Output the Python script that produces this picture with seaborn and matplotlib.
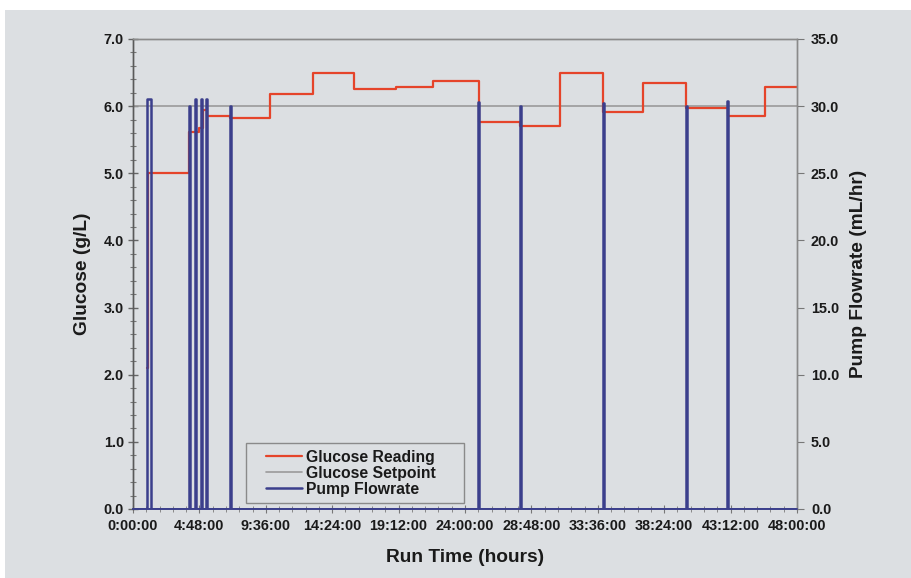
import matplotlib
matplotlib.use("Agg")
import matplotlib.pyplot as plt
import matplotlib.ticker as mticker
from matplotlib.patches import Rectangle
from matplotlib.lines import Line2D
from matplotlib.legend_handler import HandlerLine2D
import numpy as np
import pandas as pd
import seaborn as sns

# ---------------- data (hours / g/L / mL/hr) ----------------
glucose_times = [1.0, 1.1, 4.05, 4.75, 5.06, 5.35, 7.0, 9.9, 13.0, 16.0, 19.0, 21.7,
                 25.0, 28.0, 30.9, 34.0, 36.9, 40.0, 43.0, 45.7, 48.0]
glucose_values = [2.1, 5.0, 5.62, 5.68, 5.95, 5.86, 5.82, 6.18, 6.50, 6.25, 6.29, 6.38,
                  5.77, 5.70, 6.49, 5.91, 6.35, 5.97, 5.85, 6.28, 6.28]

setpoint_times = [0.0, 48.0]
setpoint_values = [6.0, 6.0]

pump_start = [1.0, 4.05, 4.5, 4.9, 5.28, 7.0, 24.95, 27.98, 33.98, 39.98, 42.95]
pump_duration = [0.3, 0.08, 0.08, 0.08, 0.08, 0.08, 0.08, 0.08, 0.08, 0.08, 0.08]
pump_level = [30.5, 30.0, 30.5, 30.5, 30.5, 30.0, 30.3, 30.0, 30.2, 30.0, 30.4]

x_major_hours = [0, 4.8, 9.6, 14.4, 19.2, 24.0, 28.8, 33.6, 38.4, 43.2, 48.0]

# ---------------- build tables ----------------
gluc_df = pd.DataFrame({"t": glucose_times, "g": glucose_values})
set_df = pd.DataFrame({"t": setpoint_times, "g": setpoint_values})
pt, pv = [0.0], [0.0]
for s, d, l in zip(pump_start, pump_duration, pump_level):
    pt += [s, s, s + d, s + d]
    pv += [0.0, l, l, 0.0]
pt.append(48.0)
pv.append(0.0)
pump_df = pd.DataFrame({"t": pt, "f": pv})

# ---------------- style ----------------
sns.set_theme(style="white")
plt.rcParams["font.family"] = ["Liberation Sans", "DejaVu Sans"]
plt.rcParams["font.weight"] = "bold"

BG = "#dcdfe2"
RED = "#e5442a"
BLUE = "#3b3f8c"
GRAY = "#9a9a9a"
TXT = "#1a1a1a"

fig = plt.figure(figsize=(9.12, 5.78), dpi=100, facecolor="white")
fig.patches.append(Rectangle((5 / 912, 0), 1 - 5 / 912, 1 - 10 / 578,
                             transform=fig.transFigure, facecolor=BG,
                             edgecolor="none", zorder=-10))
ax = fig.add_axes([133 / 912, 1 - 509 / 578, 664 / 912, 470 / 578])
ax.set_facecolor(BG)

sns.lineplot(data=set_df, x="t", y="g", ax=ax, color=GRAY, linewidth=1.2,
             estimator=None, sort=False)
sns.lineplot(data=gluc_df, x="t", y="g", ax=ax, color=RED, linewidth=1.6,
             drawstyle="steps-post", estimator=None, sort=False)

ax2 = ax.twinx()
sns.lineplot(data=pump_df, x="t", y="f", ax=ax2, color=BLUE, linewidth=1.8,
             estimator=None, sort=False)

ax.set_xlim(0, 48)
ax.set_ylim(0, 7)
ax2.set_ylim(0, 35)

ax.xaxis.set_major_locator(mticker.FixedLocator(x_major_hours))
ax.xaxis.set_minor_locator(mticker.MultipleLocator(0.96))


def hfmt(v, pos):
    total = int(round(v * 60))
    return f"{total // 60}:{total % 60:02d}:00"


ax.xaxis.set_major_formatter(mticker.FuncFormatter(hfmt))
ax.yaxis.set_major_locator(mticker.MultipleLocator(1.0))
ax.yaxis.set_minor_locator(mticker.MultipleLocator(0.2))
ax.yaxis.set_major_formatter(mticker.FormatStrFormatter("%.1f"))
ax2.yaxis.set_major_locator(mticker.MultipleLocator(5.0))
ax2.yaxis.set_major_formatter(mticker.FormatStrFormatter("%.1f"))

ax.tick_params(axis="y", which="major", direction="inout", length=7, width=1,
               color="#666666", labelsize=10.4, pad=3, left=True)
ax.tick_params(axis="y", which="minor", direction="inout", length=5, width=0.8,
               color="#777777", left=True)
ax.tick_params(axis="x", which="major", direction="inout", length=6, width=0.8,
               color="#777777", labelsize=10.4, pad=4, bottom=True)
ax.tick_params(axis="x", which="minor", direction="inout", length=4, width=0.7,
               color="#888888", bottom=True)
ax2.tick_params(axis="y", which="major", direction="out", length=5, width=0.8,
                color="#777777", labelsize=10.4, pad=5, right=True)

for lab in ax.get_xticklabels() + ax.get_yticklabels() + ax2.get_yticklabels():
    lab.set_fontweight("bold")
    lab.set_color(TXT)

ax.set_xlabel("Run Time (hours)", fontsize=13.8, fontweight="bold", labelpad=12, color=TXT)
ax.set_ylabel("Glucose (g/L)", fontsize=13.8, fontweight="bold", labelpad=9, color=TXT)
ax2.set_ylabel("Pump Flowrate (mL/hr)", fontsize=13.8, fontweight="bold", labelpad=8, color=TXT)

for a in (ax, ax2):
    for side in ("top", "right"):
        a.spines[side].set_color("#8a8a8a")
        a.spines[side].set_linewidth(1.0)
    a.spines["left"].set_color("#5a5a5a")
    a.spines["bottom"].set_color(BLUE)
    a.spines["left"].set_linewidth(1.0)
    a.spines["bottom"].set_linewidth(1.2)


class PaddedLineHandler(HandlerLine2D):
    """Draw the legend sample line only on the right part of the handle box."""

    def get_xdata(self, legend, xdescent, ydescent, width, height, fontsize):
        xdata, xmark = super().get_xdata(legend, xdescent, ydescent, width, height, fontsize)
        x0, x1 = xdata[0], xdata[-1]
        return [x0 + 0.28 * (x1 - x0), x1], xmark


handles = [Line2D([], [], color=RED, linewidth=1.6),
           Line2D([], [], color=GRAY, linewidth=1.2),
           Line2D([], [], color=BLUE, linewidth=1.8)]
labels = ["Glucose Reading", "Glucose Setpoint", "Pump Flowrate"]
labels_padded = [s + "     " for s in labels]
leg = ax2.legend(handles, labels_padded, loc="lower left", bbox_to_anchor=(0.17, 0.013),
                 frameon=True, fancybox=False, framealpha=1, facecolor=BG,
                 edgecolor="#8a8a8a", prop={"weight": "bold", "size": 11.3},
                 handlelength=3.2, handletextpad=0.2, borderpad=0.4,
                 labelspacing=0.06, borderaxespad=0,
                 handler_map={Line2D: PaddedLineHandler()})
leg.get_frame().set_linewidth(1.0)
for t in leg.get_texts():
    t.set_color(TXT)

fig.savefig("out.png", dpi=100, facecolor=fig.get_facecolor())
